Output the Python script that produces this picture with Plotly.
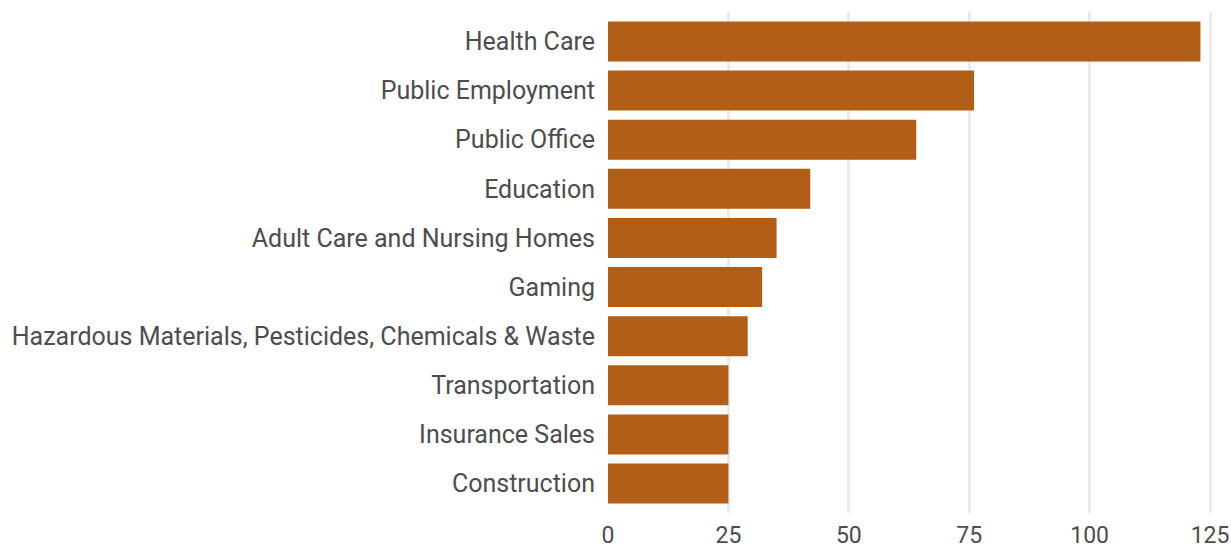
import plotly.graph_objects as go

categories = [
    "Health Care",
    "Public Employment",
    "Public Office",
    "Education",
    "Adult Care and Nursing Homes",
    "Gaming",
    "Hazardous Materials, Pesticides, Chemicals & Waste",
    "Transportation",
    "Insurance Sales",
    "Construction",
]
values = [123, 76, 64, 42, 35, 32, 29, 25, 25, 25]
tick_vals = [0, 25, 50, 75, 100, 125]

fig = go.Figure(
    go.Bar(
        x=values,
        y=categories,
        orientation="h",
        marker=dict(color="#b35e16", line=dict(width=0)),
    )
)

fig.update_layout(
    width=1231,
    height=546,
    margin=dict(l=608, r=19, t=12, b=33, autoexpand=False),
    plot_bgcolor="white",
    paper_bgcolor="white",
    font=dict(family="Roboto", size=25, color="#4d4d4d"),
    bargap=0.185,
    showlegend=False,
)
fig.update_xaxes(
    range=[0, 125.4],
    tickvals=tick_vals,
    tickfont=dict(size=23),
    showgrid=True,
    gridcolor="#ebebeb",
    gridwidth=3,
    zeroline=False,
    showline=False,
    ticks="",
    ticklabelstandoff=6,
    ticklabeloverflow="allow",
    automargin=False,
)
fig.update_yaxes(
    categoryorder="array",
    categoryarray=categories[::-1],
    range=[-0.6, 9.6],
    showgrid=False,
    zeroline=False,
    showline=False,
    ticks="",
    ticklabelstandoff=12,
    automargin=False,
)

# drop the default body margin so the figure fills the window exactly
fig.write_html(
    "out.html",
    config={"displayModeBar": False},
    post_script="document.body.style.margin='0';document.body.style.overflow='hidden';",
)
